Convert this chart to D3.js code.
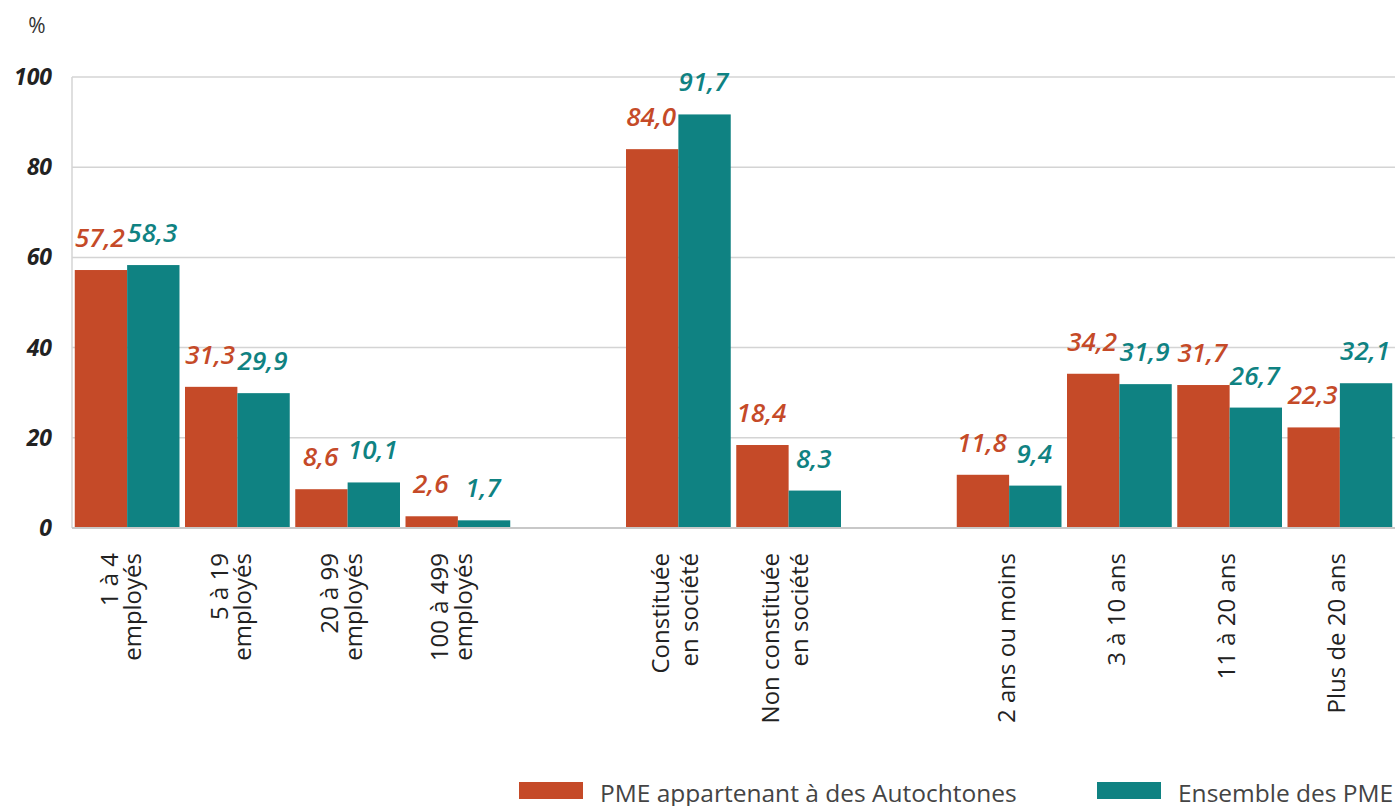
<!DOCTYPE html>
<html>
<head>
<meta charset="utf-8">
<script src="https://cdn.jsdelivr.net/npm/d3@7"></script>
<style>
  body { margin: 0; background: #fff; }
  svg { display: block; font-family: "Open Sans", sans-serif; }
</style>
</head>
<body>
<div id="chart"></div>
<script>
// categories ("|" = line break), empty strings are the spacer slots
const categories = [
  "1 à 4|employés", "5 à 19|employés", "20 à 99|employés", "100 à 499|employés",
  "",
  "Constituée|en société", "Non constituée|en société",
  "",
  "2 ans ou moins", "3 à 10 ans", "11 à 20 ans", "Plus de 20 ans"
];
const autochtones = [57.2, 31.3, 8.6, 2.6, null, 84.0, 18.4, null, 11.8, 34.2, 31.7, 22.3];
const ensemble = [58.3, 29.9, 10.1, 1.7, null, 91.7, 8.3, null, 9.4, 31.9, 26.7, 32.1];
const seriesNames = ["PME appartenant à des Autochtones", "Ensemble des PME"];
const yTicks = [0, 20, 40, 60, 80, 100];

const colors = ["#C54A28", "#0F8282"];
const width = 1395, height = 806;
const plotLeft = 72, plotRight = 1395, plotTop = 77, plotBottom = 528;

const svg = d3.select("#chart").append("svg")
  .attr("width", width)
  .attr("height", height);

const x0 = d3.scaleBand()
  .domain(d3.range(categories.length))
  .range([plotLeft, plotRight])
  .paddingInner(0.05)
  .paddingOuter(0.025);

const x1 = d3.scaleBand()
  .domain([0, 1])
  .range([0, x0.bandwidth()]);

const y = d3.scaleLinear().domain([0, 100]).range([plotBottom, plotTop]);

const fmt = (v) => d3.format(".1f")(v).replace(".", ",");

//Grid
svg.append("g")
  .selectAll("line")
  .data(yTicks.filter((d) => d > 0))
  .join("line")
  .attr("x1", plotLeft)
  .attr("x2", plotRight)
  .attr("y1", (d) => y(d))
  .attr("y2", (d) => y(d))
  .attr("stroke", "#d4d4d4")
  .attr("stroke-width", 1.5);

//Left axis line
svg.append("line")
  .attr("x1", plotLeft).attr("x2", plotLeft)
  .attr("y1", y(100)).attr("y2", y(0))
  .attr("stroke", "#d4d4d4")
  .attr("stroke-width", 1.5);

//Y tick labels
svg.append("g")
  .selectAll("text")
  .data(yTicks)
  .join("text")
  .attr("x", 52)
  .attr("y", (d) => y(d) + 8)
  .attr("text-anchor", "end")
  .style("font-size", "23px")
  .style("font-weight", "700")
  .style("font-style", "italic")
  .style("fill", "#222")
  .text((d) => d);

svg.append("text")
  .attr("x", 37)
  .attr("y", 33)
  .attr("text-anchor", "middle")
  .style("font-size", "21px")
  .style("fill", "#333")
  .text("%");

//Bars
const series = [autochtones, ensemble];
const rows = [];
categories.forEach((c, i) => {
  series.forEach((s, k) => {
    if (s[i] != null) rows.push({ i, k, v: s[i] });
  });
});

svg.append("g")
  .selectAll("rect")
  .data(rows)
  .join("rect")
  .attr("x", (d) => x0(d.i) + x1(d.k))
  .attr("width", x1.bandwidth())
  .attr("y", (d) => y(d.v))
  .attr("height", (d) => y(0) - y(d.v))
  .attr("fill", (d) => colors[d.k]);

//Value labels
svg.append("g")
  .selectAll("text")
  .data(rows)
  .join("text")
  .attr("x", (d) => x0(d.i) + x1(d.k) + x1.bandwidth() / 2 - 1)
  .attr("y", (d) => y(d.v) - 23)
  .attr("text-anchor", "middle")
  .style("font-size", "26px")
  .style("font-weight", "600")
  .style("font-style", "italic")
  .style("fill", (d) => colors[d.k])
  .text((d) => fmt(d.v));

//Baseline
svg.append("line")
  .attr("x1", plotLeft).attr("x2", plotRight)
  .attr("y1", y(0)).attr("y2", y(0))
  .attr("stroke", "#c8c8c8")
  .attr("stroke-width", 2);

//Category labels (rotated); société labels sit a bit looser than the others
categories.forEach((c, i) => {
  if (!c) return;
  const lines = c.split("|");
  const cx = x0(i) + x0.bandwidth() / 2;
  const gap = c.includes("société") ? 29 : 23.5;
  lines.forEach((ln, j) => {
    const bx = lines.length === 1 ? cx + 5.5 : cx - 9.5 + j * gap;
    svg.append("text")
      .attr("transform", `translate(${bx},553) rotate(-90)`)
      .attr("text-anchor", "end")
      .style("font-size", "24px")
      .style("fill", "#222")
      .text(ln);
  });
});

//Legend
const legendX = [519, 1097];
const legend = svg.append("g")
  .selectAll("g")
  .data(seriesNames)
  .join("g")
  .attr("transform", (d, k) => `translate(${legendX[k]}, 782)`);

legend.append("rect")
  .attr("width", 64)
  .attr("height", 17)
  .attr("fill", (d, k) => colors[k]);

legend.append("text")
  .attr("x", 81)
  .attr("y", 20)
  .style("font-size", "24.5px")
  .style("fill", "#444")
  .text((d) => d);
</script>
</body>
</html>
